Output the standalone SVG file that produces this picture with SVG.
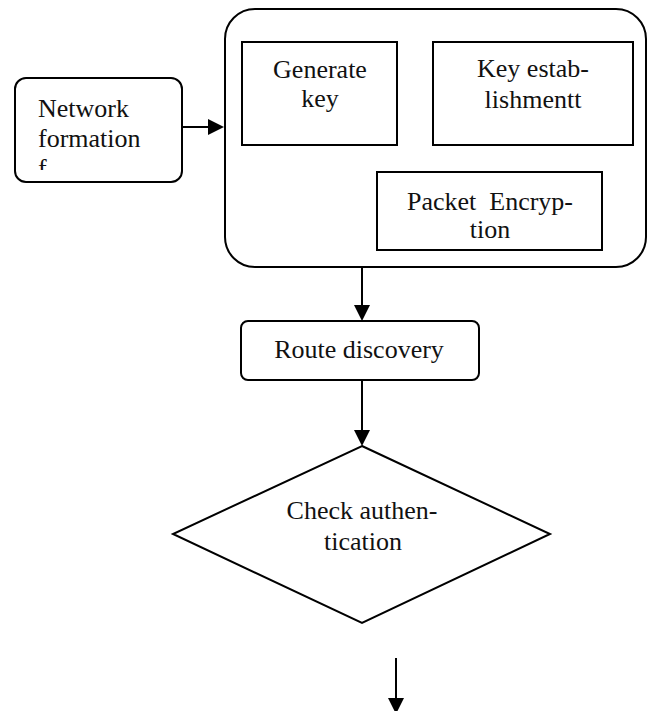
<svg xmlns="http://www.w3.org/2000/svg" width="649" height="711" viewBox="0 0 649 711">
<style>
.box{fill:#fff;stroke:#000;stroke-width:2}
.t{font-family:"Liberation Serif","Times New Roman",serif;font-size:26px;fill:#111}
.c{text-anchor:middle}
.edge{stroke:#000;stroke-width:2;fill:none}
</style>
<defs>
<marker id="ah" viewBox="0 0 10 10" refX="10" refY="5" markerWidth="8" markerHeight="8" markerUnits="userSpaceOnUse" orient="auto">
<path d="M0,0 L10,5 L0,10 z" fill="#000"/>
</marker>
<clipPath id="nfclip"><rect x="14" y="77" width="168" height="93"/></clipPath>
</defs>
<rect width="649" height="711" fill="#fff"/>
<g id="connectors">
<line class="edge" x1="182" y1="127" x2="208" y2="127"/>
<path d="M208,119 L224,127 L208,135 z" fill="#000"/>
<line class="edge" x1="362" y1="268" x2="362" y2="305"/>
<path d="M354,305 L362,321 L370,305 z" fill="#000"/>
<line class="edge" x1="362" y1="380" x2="362" y2="430"/>
<path d="M354,430 L362,446 L370,430 z" fill="#000"/>
<line class="edge" x1="396" y1="658" x2="396" y2="698"/>
<path d="M388,698 L396,714 L404,698 z" fill="#000"/>
</g>
<g id="network-formation">
<rect class="box" x="15" y="78" width="167" height="104" rx="11"/>
<g clip-path="url(#nfclip)">
<text class="t" x="38" y="117">Network</text>
<text class="t" x="38" y="147">formation</text>
<text class="t" x="38" y="177">f</text>
</g>
</g>
<g id="security-block">
<rect class="box" x="225" y="9" width="421" height="258" rx="30"/>
</g>
<g id="generate-key">
<rect class="box" x="242" y="42" width="155" height="103"/>
<text class="t c" x="320" y="78">Generate</text>
<text class="t c" x="320" y="107">key</text>
</g>
<g id="key-establishment">
<rect class="box" x="433" y="42" width="200" height="103"/>
<text class="t c" x="533" y="77">Key estab-</text>
<text class="t c" x="533" y="108">lishmentt</text>
</g>
<g id="packet-encryption">
<rect class="box" x="377" y="172" width="225" height="78"/>
<text class="t c" x="490" y="210" xml:space="preserve">Packet  Encryp-</text>
<text class="t c" x="490" y="238">tion</text>
</g>
<g id="route-discovery">
<rect class="box" x="241" y="321" width="238" height="59" rx="7"/>
<text class="t c" x="359" y="358">Route discovery</text>
</g>
<g id="check-authentication">
<polygon class="box" points="362,446 550,534 362,623 173,534"/>
<text class="t c" x="362" y="519">Check authen-</text>
<text class="t c" x="363" y="550">tication</text>
</g>
</svg>
